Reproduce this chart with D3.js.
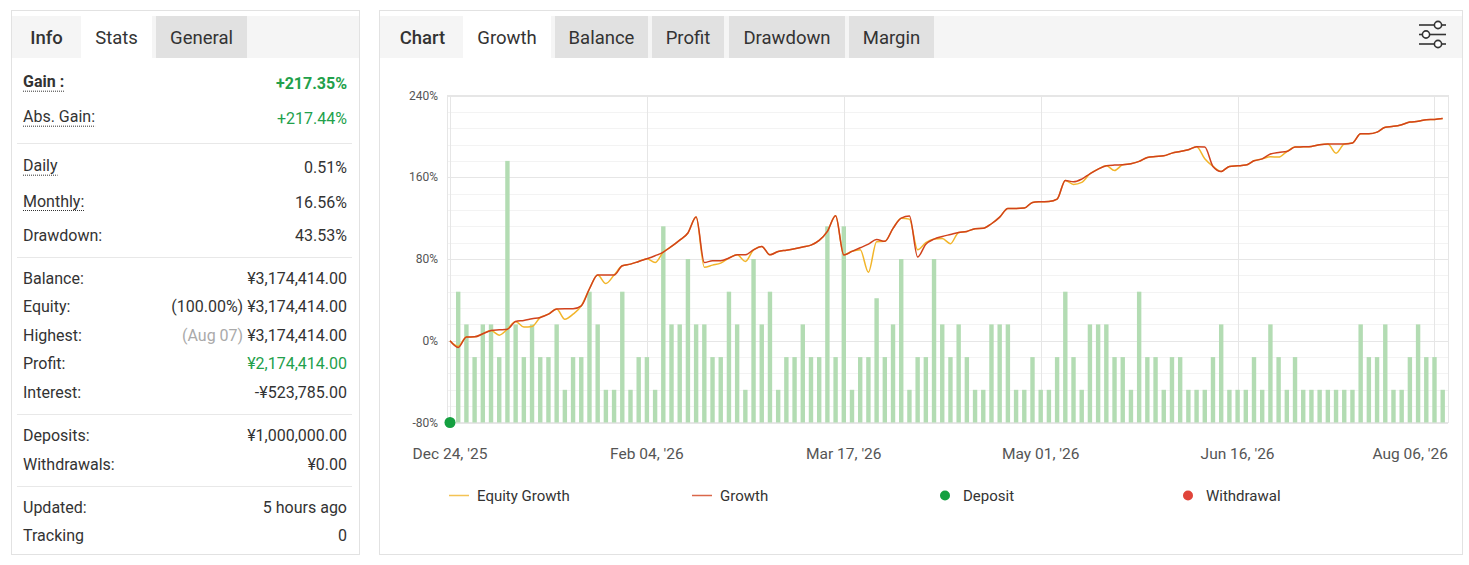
<!DOCTYPE html>
<html><head><meta charset="utf-8">
<script src="https://cdn.jsdelivr.net/npm/d3@7/dist/d3.min.js"></script>
<style>body{margin:0;background:#fff;font-family:Roboto,sans-serif}svg text{font-family:Roboto,sans-serif}</style>
</head><body><svg id="c" width="1469" height="565"></svg>
<script>
// ---------- DATA ----------
const tickLabels = ["Dec 24, '25","Feb 04, '26","Mar 17, '26","May 01, '26","Jun 16, '26","Aug 06, '26"];
const tickIndex = [0,24,48,72,96,120];
const yTicks = [-80,0,80,160,240];
// trades per point, indices 1..121
const trades = [4,3,2,3,3,2,8,3,2,3, 2,2,3,1,2,2,4,3,1,1, 4,1,2,2,1,6,3,3,5,3, 3,2,2,4,3,1,5,3,4,1,
  2,2,3,2,2,6,2,6,1,2, 2,3.8,2,3,5,1,2,2,5,3, 2,3,2,1,1,3,3,3,1,1, 2,1,1,2,4,2,1,3,3,3,
  2,2,1,4,2,2,1,2,2,1, 1,1,2,3,1,1,1,2,1,3, 2,1,2,1,1,1,1,1,1,1, 3,2,2,3,1,1,2,3,2,2, 1];
const growth = [0,-6.5,3.6,3.8,6.8,10,10.7,11.3,18.9,19.9, 21.5,22.8,26,31,31.3,31.3,34.2,50.9,64.3,64.3,
  64.3,73.4,75,77.6,80.2,83.2,86.8,92.3,98.5,105.5, 121,76.6,78.3,78.3,80.9,84.1,84.1,89,92.3,84.1,
  87.4,88.6,90,91.7,93.6,98.2,107,122.3,84,87.5, 91,94.5,99,97.3,110,120,122,82,94.5,99.5,
  102,104,106,107,109.6,110,114.5,121,129.5,129.5, 129.8,135.4,136,136.3,138.6,156.9,155.5,158.2,163.4,168,
  171.2,171.9,172.2,173.2,175.5,179.4,180.3,181,183.6,185.2, 186.9,189.8,189.5,170.6,165.7,170.6,171.2,171.9,176.1,178,
  182.7,184.3,185.2,189.5,189.8,190.2,191.8,192.5,192.5,192.5, 193.5,202.5,202.5,204.2,209,209.8,211.4,214,214.7,216.3,
  216.6,217.4];
const equity = [0,-5.5,3.6,3.8,6.8,10,5.5,11.3,18.9,13.5, 14,22.8,26,31,21,26,34.2,50.9,64.3,56,
  64.3,73.4,75,77.6,80.2,76.5,86.8,92.3,98.5,105.5, 121,72,74,76,80.9,84.1,77.6,89,92.3,84.1,
  87.4,88.6,90,91.7,93.6,98.2,107,122.3,84,87.5, 89,67,97,97.3,110,120,119,89,96,99.5,
  100,95,106,107,109.6,110,114.5,121,129.5,129.5, 129.8,135.4,136,136.3,138.6,156.9,153,155,163.4,168,
  171.2,166.6,172.2,173.2,175.5,179.4,180.3,181,183.6,185.2, 186.9,189.8,178,170.6,165.7,170.6,171.2,171.9,176.1,178,
  180,179.7,185.2,189.5,189.8,190.2,191.8,192.5,183.6,192.5, 193.5,202.5,202.5,204.2,209,209.8,211.4,214,214.7,216.3,
  216.6,217.4];
const depositIndex = [0];
const legendNames = ["Equity Growth","Growth","Deposit","Withdrawal"];
const leftTabs = ["Info","Stats","General"];
const rightTabs = ["Chart","Growth","Balance","Profit","Drawdown","Margin"];
const statLabels = ["Gain :","Abs. Gain:","Daily","Monthly:","Drawdown:","Balance:","Equity:","Highest:","Profit:","Interest:","Deposits:","Withdrawals:","Updated:","Tracking"];
const statNotes  = ["","","","","","","(100.00%) ","(Aug 07) ","","","","","",""];
const statValues = ["+217.35%","+217.44%","0.51%","16.56%","43.53%","¥3,174,414.00","¥3,174,414.00","¥3,174,414.00","¥2,174,414.00","-¥523,785.00","¥1,000,000.00","¥0.00","5 hours ago","0"];

// ---------- STYLE / LAYOUT ----------
const C = {text:"#333", green:"#22a04b", red:"#d1421d", yellow:"#f2b52a", bar:"#b3dcb3", grid:"#e6e6e6", minor:"#f3f3f3", dep:"#14a040", wd:"#e0443a"};
const svg = d3.select("#c");

function panel(x0,x1,y0,y1){
  svg.append("rect").attr("x",x0+.5).attr("y",y0+.5).attr("width",x1-x0).attr("height",y1-y0)
    .attr("fill","#fff").attr("stroke","#e2e2e2");
  svg.append("rect").attr("x",x0+1).attr("y",16).attr("width",x1-x0-1).attr("height",42).attr("fill","#f5f5f5");
}
panel(11,359,10,554);
panel(379,1462,10,554);

function tabs(names, boxes){
  names.forEach((n,i)=>{
    const b = boxes[i];
    if(b.bg) svg.append("rect").attr("x",b.x0).attr("y",16).attr("width",b.x1-b.x0).attr("height",42).attr("fill",b.bg);
    svg.append("text").attr("x",(b.x0+b.x1)/2).attr("y",43.5).attr("text-anchor","middle")
      .attr("font-size",18.5).attr("font-weight",b.bold?500:400).attr("fill",C.text).text(n);
  });
}
tabs(leftTabs,[{x0:12,x1:81,bold:true},{x0:81,x1:152,bg:"#fff"},{x0:156,x1:247,bg:"#e1e1e1"}]);
tabs(rightTabs,[{x0:385,x1:460,bold:true},{x0:463,x1:551,bg:"#fff"},{x0:555,x1:648,bg:"#e1e1e1"},
  {x0:652,x1:724,bg:"#e1e1e1"},{x0:729,x1:845,bg:"#e1e1e1"},{x0:849,x1:934,bg:"#e1e1e1"}]);

// settings icon
const ic = svg.append("g").attr("stroke","#333").attr("stroke-width",1.6).attr("fill","#fff");
[[25,1438],[34.5,1426],[44,1438]].forEach(([yy,cx])=>{
  ic.append("line").attr("x1",1419).attr("x2",1446).attr("y1",yy).attr("y2",yy);
  ic.append("circle").attr("cx",cx).attr("cy",yy).attr("r",3.6);
});

// stats
const rowY = [81.7,116.7,165.7,201,235.3,278.3,306.7,335,363.3,392.7,435.7,464,507.3,535.7];
const underlined = [0,1,2,3];
const seps = [143.5,257.5,414.5,486.5];
seps.forEach(s=>svg.append("line").attr("x1",17).attr("x2",352).attr("y1",s).attr("y2",s).attr("stroke","#e8e8e8"));
statLabels.forEach((l,i)=>{
  const t = svg.append("text").attr("x",23).attr("y",rowY[i]+5.7).attr("font-size",16)
    .attr("font-weight",i===0?700:400).attr("fill",C.text).text(l);
  if(underlined.includes(i)){
    const w = t.node().getComputedTextLength();
    svg.append("line").attr("x1",23).attr("x2",23+w).attr("y1",rowY[i]+9.5).attr("y2",rowY[i]+9.5)
      .attr("stroke","#333").attr("stroke-width",1).attr("stroke-dasharray","1,1");
  }
  const vy = rowY[i]+5.7+(i<4?1.5:0);
  const v = svg.append("text").attr("x",347).attr("y",vy).attr("text-anchor","end").attr("font-size",16)
    .attr("font-weight",i===0?700:400)
    .attr("fill",(i<2||i===8)?C.green:C.text);
  if(statNotes[i]) v.append("tspan").attr("fill",i===7?"#aaa":C.text).text(statNotes[i]);
  v.append("tspan").text(statValues[i]);
});

// ---------- CHART ----------
const PL=447, PR=1448, PT=95.5, PB=422.5;
const x = d3.scaleLinear().domain([0,121]).range([450,1442.7]);
const y = d3.scaleLinear().domain([-80,240]).range([PB,PT]);
const yb = d3.scaleLinear().domain([0,10]).range([PB,PT]);

const g = svg.append("g");
// minor grid
d3.range(-80,241,16).filter(v=>!yTicks.includes(v)).forEach(v=>{
  g.append("line").attr("x1",PL).attr("x2",PR).attr("y1",Math.round(y(v))+.5).attr("y2",Math.round(y(v))+.5).attr("stroke",C.minor);
});
yTicks.forEach(v=>{
  g.append("line").attr("x1",PL).attr("x2",PR).attr("y1",Math.round(y(v))+.5).attr("y2",Math.round(y(v))+.5).attr("stroke",C.grid);
  g.append("text").attr("x",438).attr("y",y(v)+4).attr("text-anchor","end").attr("font-size",12).attr("fill","#555").text(v+"%");
});
tickIndex.forEach(i=>{
  g.append("line").attr("x1",Math.round(x(i))+.5).attr("x2",Math.round(x(i))+.5).attr("y1",PT).attr("y2",PB).attr("stroke",C.grid);
});
g.append("rect").attr("x",PL+.5).attr("y",PT).attr("width",PR-PL).attr("height",PB-PT).attr("fill","none").attr("stroke",C.grid);

// bars
g.selectAll(".bar").data(trades).enter().append("rect")
  .attr("x",(d,i)=>x(i+1)-2.2).attr("width",4.4)
  .attr("y",d=>yb(d)).attr("height",d=>yb(0)-yb(d)).attr("fill",C.bar);

// lines
const line = d3.line().x((d,i)=>x(i)).y(d=>y(d)).curve(d3.curveMonotoneX);
g.append("path").datum(equity).attr("d",line).attr("fill","none").attr("stroke",C.yellow).attr("stroke-width",1.5);
g.append("path").datum(growth).attr("d",line).attr("fill","none").attr("stroke",C.red).attr("stroke-width",1.5);

// deposits
depositIndex.forEach(i=>g.append("circle").attr("cx",x(i)).attr("cy",yb(0)).attr("r",5.5).attr("fill",C.dep));

// x labels
tickIndex.forEach((ti,k)=>{
  const t = g.append("text").attr("x",x(ti)).attr("y",458.5).attr("text-anchor","middle").attr("font-size",15.5).attr("fill","#555").text(tickLabels[k]);
  const w = t.node().getComputedTextLength();
  if(x(ti)+w/2>PR){ t.attr("text-anchor","end").attr("x",PR); }
});

// legend
const lg = svg.append("g");
const legX = [449,692,938,1181];
legendNames.forEach((n,k)=>{
  const lx = legX[k];
  if(k<2){
    lg.append("line").attr("x1",lx).attr("x2",lx+20).attr("y1",495.5).attr("y2",495.5)
      .attr("stroke",k===0?C.yellow:C.red).attr("stroke-width",1.5).attr("opacity",0.8);
  } else {
    lg.append("circle").attr("cx",lx+7).attr("cy",495.5).attr("r",5).attr("fill",k===2?C.dep:C.wd);
  }
  lg.append("text").attr("x",k<2?lx+28:lx+25).attr("y",500.8).attr("font-size",15).attr("fill",C.text).text(n);
});
</script></body></html>
